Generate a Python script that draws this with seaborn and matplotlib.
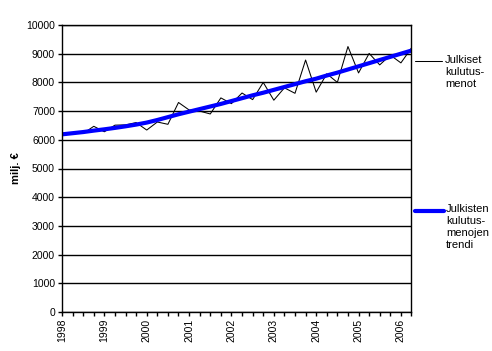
import pandas as pd
import matplotlib.pyplot as plt
import seaborn as sns
from matplotlib.lines import Line2D

# Quarterly data, 1998Q1 - 2006Q2 (milj. EUR)
years = [1998, 1999, 2000, 2001, 2002, 2003, 2004, 2005, 2006]
spending = [6180, 6230, 6220, 6470,
            6280, 6510, 6520, 6600,
            6340, 6620, 6540, 7300,
            7040, 7000, 6900, 7460,
            7260, 7630, 7400, 8000,
            7380, 7810, 7620, 8780,
            7660, 8300, 8000, 9250,
            8330, 9010, 8610, 8950,
            8680, 9200]
trend = [6190, 6230, 6270, 6320,
         6365, 6415, 6470, 6530,
         6600, 6690, 6790, 6890,
         6980, 7070, 7160, 7250,
         7350, 7450, 7550, 7640,
         7740, 7840, 7940, 8040,
         8130, 8240, 8340, 8450,
         8560, 8670, 8780, 8890,
         9000, 9110]

df = pd.DataFrame({'q': range(len(spending)), 'menot': spending, 'trendi': trend})

sns.set_style('white')
plt.rcParams['font.family'] = ['Liberation Sans', 'DejaVu Sans']
plt.rcParams['text.color'] = 'black'
plt.rcParams['xtick.color'] = 'black'
plt.rcParams['ytick.color'] = 'black'
plt.rcParams['axes.labelcolor'] = 'black'

fig = plt.figure(figsize=(4.92, 3.51), dpi=100)
ax = fig.add_axes([62 / 492, 1 - 312 / 351, 349.5 / 492, 287 / 351])

sns.lineplot(data=df, x='q', y='menot', ax=ax, color='black', linewidth=0.75)
sns.lineplot(data=df, x='q', y='trendi', ax=ax, color='#0000ff', linewidth=3)

ax.set_xlim(0, len(spending) - 1)
ax.set_ylim(0, 10000)
ax.set_yticks(range(0, 10001, 1000))
ax.yaxis.grid(True, color='black', linewidth=1)
ax.set_axisbelow(True)

ax.set_xticks(range(len(spending)))
ax.set_xticklabels([str(years[i // 4]) if i % 4 == 0 else '' for i in range(len(spending))],
                   rotation=90, fontsize=7.5)
ax.tick_params(axis='y', labelsize=7.5, length=3, width=1, direction='out', left=True, pad=2)
ax.tick_params(axis='x', length=3, width=1, direction='out', bottom=True, pad=2)
for s in ax.spines.values():
    s.set_color('black')
    s.set_linewidth(1)

ax.set_xlabel('')
ax.set_ylabel('milj. €', fontsize=8, fontweight='bold', labelpad=4)

# Legend labels on the right
W, H = 492, 351
fig.add_artist(Line2D([415 / W, 442 / W], [1 - 61 / H, 1 - 61 / H], color='black', linewidth=0.75))
fig.text(445 / W, 1 - 55 / H, 'Julkiset\nkulutus-\nmenot', fontsize=8, va='top', linespacing=1.25)
fig.add_artist(Line2D([415 / W, 444 / W], [1 - 211 / H, 1 - 211 / H], color='#0000ff', linewidth=3))
fig.text(446 / W, 1 - 204 / H, 'Julkisten\nkulutus-\nmenojen\ntrendi', fontsize=8, va='top',
         linespacing=1.25)

fig.savefig('out.png', dpi=100)
